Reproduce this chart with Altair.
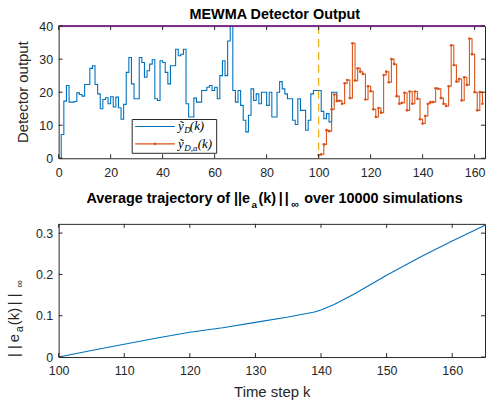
import altair as alt
import pandas as pd

# ---------------- data ----------------
blue_k = list(range(0, 110))
blue_vals = [0, 7.2, 17.3, 22, 17, 17, 17.2, 19.8, 19.3, 18.8,
             22.3, 22.3, 27.2, 28, 22.3, 19.5, 15, 17.8, 18.3, 16.5,
             18.6, 15.5, 18.5, 15.3, 11.8, 16.3, 26, 30.5, 22.5, 18,
             18, 30.5, 29, 24.5, 26.5, 28.5, 29.8, 18, 17.5, 29.5,
             29, 26, 22.5, 28, 28, 33, 31, 31.5, 33, 16.5,
             12.5, 12.5, 18.2, 17, 17, 20.5, 20.5, 21.5, 22, 20.5,
             21.5, 18, 25, 29.5, 25, 35.5, 42, 20.5, 17, 20.5,
             16, 11.5, 8, 13, 21, 17.5, 19.5, 16.5, 20, 20,
             16, 20, 12.5, 12.5, 20, 23.2, 21, 19.5, 18, 18,
             11.5, 10.2, 18, 14.5, 14.5, 8.5, 11.5, 19.5, 20.5, 20.5,
             20.5, 14.2, 12, 13.5, 11, 20, 20, 17.5, 17.5, 17.5]

orange_k = list(range(100, 164))
orange_vals = [1, 1.2, 4.2, 8.5, 8.2, 14.8, 19.3, 17.3, 17.4, 16.5,
               22.7, 23.7, 18.2, 34.8, 23.5, 27.2, 26.2, 25.5, 17.8, 21.8,
               20.3, 14.8, 12.5, 15.2, 13.8, 25.2, 26.2, 23, 30, 28.5,
               18.8, 16.5, 16.8, 19.8, 14.5, 20.2, 16.5, 20.2, 18, 11.8,
               10.5, 12.8, 16.5, 17, 17, 21.2, 21, 18.2, 16.5, 15.8,
               21.8, 34.2, 28.2, 23.2, 24, 17.5, 24.5, 22.2, 36.2, 31.5,
               20, 14.5, 20, 16.5]

err_k = [100, 105, 110, 115, 120, 125, 130, 135, 138, 139, 140, 142, 145, 150, 155, 160, 165]
err_vals = [0, 0.016, 0.031, 0.046, 0.060, 0.071, 0.084, 0.097, 0.106, 0.109,
            0.114, 0.127, 0.152, 0.198, 0.241, 0.281, 0.319]

top_xticks = [0, 20, 40, 60, 80, 100, 120, 140, 160]
top_yticks = [0, 10, 20, 30, 40]
bot_xticks = [100, 110, 120, 130, 140, 150, 160]
bot_yticks = [0, 0.1, 0.2, 0.3]
threshold = [40]
attack_start = [100]

# ---------------- style ----------------
W = 429
H1 = 133
H2 = 134
SANS = "Liberation Sans"
SERIF = "Liberation Serif"
AX = "#262626"
BLUE = "#0072BD"
ORANGE = "#D95319"
PURPLE = "#7E2F8E"
YELLOW = "#EDB120"
TK = 4
LBL = 12.5
TTL = 15
HEAD = 14.5

one = pd.DataFrame({"a": [0]})


def axis_plain(vals, pad=5, expr=None):
    kw = dict(values=vals, ticks=False, domain=False, grid=False, title=None,
              labelFont=SANS, labelFontSize=LBL, labelColor=AX, labelPadding=pad,
              labelFlush=False)
    if expr:
        kw["labelExpr"] = expr
    return alt.Axis(**kw)


def tick_layers(xvals, yvals, xs, ys, ax, ay, h):
    dx = pd.DataFrame({"t": xvals})
    dy = pd.DataFrame({"t": yvals})
    base_x = alt.Chart(dx).mark_rule(color=AX, strokeWidth=1)
    base_y = alt.Chart(dy).mark_rule(color=AX, strokeWidth=1)
    return [
        base_x.encode(x=alt.X("t:Q", scale=xs, axis=ax), y=alt.value(h - TK), y2=alt.value(h)),
        base_x.encode(x=alt.X("t:Q", scale=xs, axis=ax), y=alt.value(0), y2=alt.value(TK)),
        base_y.encode(y=alt.Y("t:Q", scale=ys, axis=ay), x=alt.value(0), x2=alt.value(TK)),
        base_y.encode(y=alt.Y("t:Q", scale=ys, axis=ay), x=alt.value(W - TK), x2=alt.value(W)),
    ]


def txt(s, x, y, size, font=SANS, weight="normal", style="normal", angle=0,
        align="left", baseline="alphabetic", color="black"):
    kw = dict(font=font, fontSize=size, fontWeight=weight, fontStyle=style,
              align=align, baseline=baseline, color=color, text=s)
    if angle:
        kw["angle"] = angle
    return alt.Chart(one).mark_text(**kw).encode(x=alt.value(x), y=alt.value(y))


# ---------------- top panel ----------------
xs1 = alt.Scale(domain=[0, 164], nice=False, zero=False)
ys1 = alt.Scale(domain=[0, 40], nice=False, zero=False)
ax1 = axis_plain(top_xticks, pad=8)
ay1 = axis_plain(top_yticks, pad=6)

anchor1 = alt.Chart(one).mark_rect(opacity=0).encode(
    x=alt.value(-58), x2=alt.value(W), y=alt.value(-24), y2=alt.value(H1))

blue_df = pd.DataFrame({"k": blue_k, "v": blue_vals})
orange_df = pd.DataFrame({"k": orange_k, "v": orange_vals})

blue_line = alt.Chart(blue_df).mark_line(
    interpolate="step-after", color=BLUE, strokeWidth=1.1, clip=True
).encode(x=alt.X("k:Q", scale=xs1, axis=ax1), y=alt.Y("v:Q", scale=ys1, axis=ay1))

orange_line = alt.Chart(orange_df).mark_line(
    interpolate="step-after", color=ORANGE, strokeWidth=1.1, clip=True,
    point=alt.OverlayMarkDef(filled=True, size=7, color=ORANGE)
).encode(x=alt.X("k:Q", scale=xs1, axis=ax1), y=alt.Y("v:Q", scale=ys1, axis=ay1))

thr = alt.Chart(pd.DataFrame({"v": threshold})).mark_rule(
    color=PURPLE, strokeWidth=2).encode(y=alt.Y("v:Q", scale=ys1, axis=ay1))

vline = alt.Chart(pd.DataFrame({"k": attack_start})).mark_rule(
    color=YELLOW, strokeWidth=1.3, strokeDash=[8, 5]).encode(
    x=alt.X("k:Q", scale=xs1, axis=ax1))

# legend (manual)
LX0, LX1, LY0, LY1 = 74, 159, 94, 128
leg_box = alt.Chart(one).mark_rect(fill="white", stroke=AX, strokeWidth=1).encode(
    x=alt.value(LX0), x2=alt.value(LX1), y=alt.value(LY0), y2=alt.value(LY1))
leg_l1 = alt.Chart(one).mark_rule(color=BLUE, strokeWidth=1.1).encode(
    x=alt.value(77), x2=alt.value(117), y=alt.value(101))
leg_l2 = alt.Chart(one).mark_rule(color=ORANGE, strokeWidth=1.1).encode(
    x=alt.value(77), x2=alt.value(117), y=alt.value(118.5))
leg_pt = alt.Chart(one).mark_point(filled=True, size=7, color=ORANGE, opacity=1).encode(
    x=alt.value(97), y=alt.value(118.5))
leg_txt = [
    txt("ỹ", 120, 105, 13, font=SERIF, style="italic"),
    txt("D", 126.5, 108, 9, font=SERIF, style="italic"),
    txt("(k)", 132, 105, 13, font=SERIF, style="italic"),
    txt("ỹ", 120, 122.5, 13, font=SERIF, style="italic"),
    txt("D,a", 126.5, 125.5, 9, font=SERIF, style="italic"),
    txt("(k)", 140, 122.5, 13, font=SERIF, style="italic"),
]

ytitle1 = txt("Detector output", -31, H1 / 2, TTL, angle=270, align="center", color=AX)
title1 = txt("MEWMA Detector Output", W / 2 + 3, -7, HEAD, weight="bold", align="center")

top = alt.layer(
    anchor1, blue_line, orange_line, thr, vline,
    *tick_layers(top_xticks, top_yticks, xs1, ys1, ax1, ay1, H1),
    leg_box, leg_l1, leg_l2, leg_pt, *leg_txt, ytitle1, title1
).properties(width=W, height=H1)

# ---------------- bottom panel ----------------
xs2 = alt.Scale(domain=[100, 165], nice=False, zero=False)
ys2 = alt.Scale(domain=[0, 0.3224], nice=False, zero=False)
ax2 = alt.Axis(values=bot_xticks, ticks=False, domain=False, grid=False,
               title="Time step k", titleFont=SANS, titleFontSize=TTL,
               titleFontWeight="normal", titleColor=AX, titlePadding=7,
               labelFont=SANS, labelFontSize=LBL, labelColor=AX, labelPadding=8,
               labelFlush=False)
ay2 = axis_plain(bot_yticks, pad=6,
                 expr="datum.value == 0 ? '0' : format(datum.value, '.1f')")

anchor2 = alt.Chart(one).mark_rect(opacity=0).encode(
    x=alt.value(-58), x2=alt.value(W), y=alt.value(0), y2=alt.value(179))

err_df = pd.DataFrame({"k": err_k, "v": err_vals})
err_line = alt.Chart(err_df).mark_line(color=BLUE, strokeWidth=1.1, clip=True).encode(
    x=alt.X("k:Q", scale=xs2, axis=ax2), y=alt.Y("v:Q", scale=ys2, axis=ay2))

title2 = [
    txt("Average trajectory of ||e", 28, -21, HEAD, weight="bold"),
    txt("a", 194, -16, 10, weight="bold"),
    txt("(k)", 201, -21, HEAD, weight="bold"),
    txt("|", 221.5, -21, HEAD, weight="bold"),
    txt("|", 227.5, -21, HEAD, weight="bold"),
    txt("∞", 234, -16, 11, weight="bold"),
    txt("over 10000 simulations", 247, -21, HEAD, weight="bold"),
]

ytitle2 = [
    txt("| |", -40, H2, TTL, angle=270, color=AX),
    txt("e", -40, H2 - 15, TTL, angle=270, color=AX),
    txt("a", -36, H2 - 25, 11, angle=270, color=AX),
    txt("(k)", -40, H2 - 32, TTL, angle=270, color=AX),
    txt("| |", -40, H2 - 52, TTL, angle=270, color=AX),
    txt("∞", -36, H2 - 70, 11, angle=270, color=AX),
]

bottom = alt.layer(
    anchor2, err_line,
    *tick_layers(bot_xticks, bot_yticks, xs2, ys2, ax2, ay2, H2),
    *title2, *ytitle2
).properties(width=W, height=H2)

chart = alt.vconcat(top, bottom, spacing=66, bounds="flush").properties(
    padding=0, autosize=alt.AutoSizeParams(type="pad")
).configure_view(stroke=AX, strokeWidth=1, fill=None)

chart.save("out.html", embed_options={"renderer": "svg", "actions": False})
